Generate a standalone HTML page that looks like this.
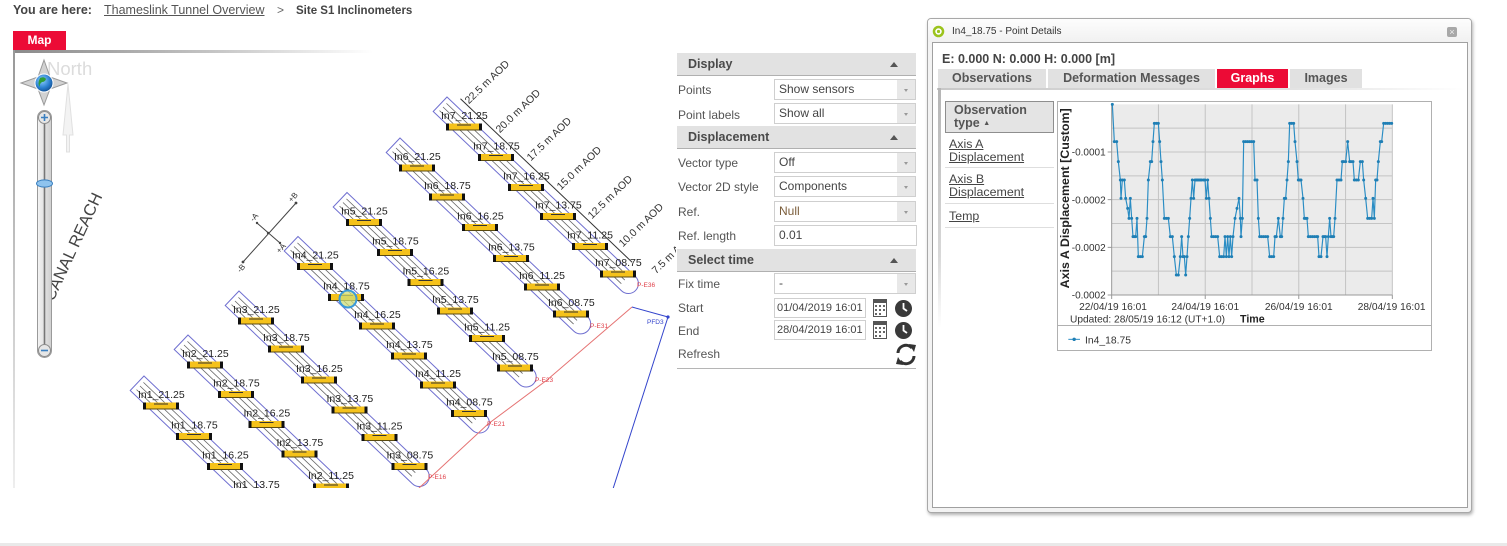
<!DOCTYPE html>
<html><head><meta charset="utf-8">
<style>
*{margin:0;padding:0;box-sizing:border-box}
body{width:1507px;height:546px;overflow:hidden;background:#fff;font-family:"Liberation Sans",Arial,sans-serif;position:relative}
.a{position:absolute;white-space:nowrap}
.hdr{position:absolute;left:677px;width:239px;height:23px;background:#e2e2e2;border-bottom:1px solid #b0b0b0;font-weight:bold;font-size:12.5px;color:#4a4a4a;line-height:22px;padding-left:11px}
.hdr i{position:absolute;right:18px;top:9px;width:0;height:0;border-left:4px solid transparent;border-right:4px solid transparent;border-bottom:5px solid #555}
.lbl{position:absolute;left:678px;font-size:12px;color:#555;white-space:nowrap;line-height:14px}
.sel{position:absolute;left:774px;width:142px;height:21px;border:1px solid #cfcfcf;background:#fff;font-size:12px;color:#444;line-height:19px;padding-left:4px;white-space:nowrap;overflow:hidden}
.sel b{position:absolute;right:0;top:0;width:18px;height:19px;background:#e8e8e8}
.sel b:after{content:"";position:absolute;left:7px;top:9px;border-left:2.5px solid transparent;border-right:2.5px solid transparent;border-top:3px solid #999}
.inp{position:absolute;left:774px;width:92px;height:20px;border:1px solid #cfcfcf;background:#fff;font-size:11px;color:#444;line-height:18px;padding-left:2px;white-space:nowrap;overflow:hidden}
.tab{position:absolute;top:69px;height:19px;background:#e1e1e1;font-weight:bold;font-size:12.5px;color:#555;line-height:19px;text-align:center;white-space:nowrap}
.lk{position:absolute;left:949px;font-size:12.4px;color:#444;text-decoration:underline;white-space:nowrap;line-height:13px}
.sp{position:absolute;left:945px;width:109px;height:1px;background:#dedede}
</style></head><body>

<!-- breadcrumb -->
<div class="a" style="left:13px;top:3px;font-size:12.5px;font-weight:bold;color:#444;line-height:15px">You are here:</div>
<div class="a" style="left:104px;top:3px;font-size:12.5px;color:#555;text-decoration:underline;line-height:15px">Thameslink Tunnel Overview</div>
<div class="a" style="left:277px;top:3px;font-size:12px;color:#666;line-height:15px">&gt;</div>
<div class="a" style="left:296px;top:4px;font-size:11.5px;font-weight:bold;color:#444;line-height:15px">Site S1 Inclinometers</div>

<!-- map tab -->
<div class="a" style="left:13px;top:31px;width:53px;height:19px;background:#ec0b36;color:#fff;font-weight:bold;font-size:12px;line-height:19px;text-align:center">Map</div>
<div class="a" style="left:13px;top:50px;width:360px;height:3px;background:linear-gradient(to right,#8a8a8a,#c4c4c4 55%,rgba(255,255,255,0))"></div>
<div class="a" style="left:13px;top:50px;width:2px;height:438px;background:linear-gradient(to bottom,#999,#ccc 60%,#eee)"></div>

<!-- map svg -->
<svg class="a" style="left:0;top:0" width="680" height="492" viewBox="0 0 680 492" font-family="Liberation Sans, Arial, sans-serif">
<defs>
<clipPath id="mc"><rect x="15" y="53" width="661" height="435"/></clipPath>
<g id="b"><rect x="-18" y="-3.5" width="36" height="7" fill="#f5c21b"/><rect x="-18" y="-3.5" width="3" height="7" fill="#111"/><rect x="15" y="-3.5" width="3" height="7" fill="#111"/><rect x="-15" y="2.5" width="30" height="1" fill="#5a4a10"/><rect x="-7" y="-2.5" width="14" height="1" fill="#333"/></g>
<linearGradient id="sl" x1="0" x2="1"><stop offset="0" stop-color="#f4f4f4"/><stop offset="1" stop-color="#cfcfcf"/></linearGradient>
<radialGradient id="gl" cx=".4" cy=".35" r=".7"><stop offset="0" stop-color="#8fd0ff"/><stop offset=".6" stop-color="#2a7fd0"/><stop offset="1" stop-color="#114a8a"/></radialGradient>
</defs>
<g clip-path="url(#mc)">
<!-- tubes -->
<g fill="none" stroke-width="1">
<g transform="translate(464,127) rotate(43.6)"><path d="M-33,-10 H227 A10,10 0 0 1 227,10 H-33 Z" stroke="#6f6fd0"/><path d="M-29,-5 H222 M-29,0 H222 M-29,5 H222" stroke="#666" stroke-width=".8"/><path d="M-22,-18 H215" stroke="#333"/></g>
<g transform="translate(417,168) rotate(43.6)"><path d="M-33,-10 H226 A10,10 0 0 1 226,10 H-33 Z" stroke="#6f6fd0"/><path d="M-29,-5 H221 M-29,0 H221 M-29,5 H221" stroke="#666" stroke-width=".8"/></g>
<g transform="translate(364,222.5) rotate(43.6)"><path d="M-33,-10 H224 A10,10 0 0 1 224,10 H-33 Z" stroke="#6f6fd0"/><path d="M-29,-5 H219 M-29,0 H219 M-29,5 H219" stroke="#666" stroke-width=".8"/></g>
<g transform="translate(315,266.5) rotate(43.6)"><path d="M-33,-10 H227 A10,10 0 0 1 227,10 H-33 Z" stroke="#6f6fd0"/><path d="M-29,-5 H222 M-29,0 H222 M-29,5 H222" stroke="#666" stroke-width=".8"/></g>
<g transform="translate(256,321) rotate(43.6)"><path d="M-33,-10 H225.5 A10,10 0 0 1 225.5,10 H-33 Z" stroke="#6f6fd0"/><path d="M-29,-5 H220 M-29,0 H220 M-29,5 H220" stroke="#666" stroke-width=".8"/></g>
<g transform="translate(205,365) rotate(43.6)"><path d="M-33,-10 H250 A10,10 0 0 1 250,10 H-33 Z" stroke="#6f6fd0"/><path d="M-29,-5 H245 M-29,0 H245 M-29,5 H245" stroke="#666" stroke-width=".8"/></g>
<g transform="translate(161,406) rotate(43.6)"><path d="M-33,-10 H200 A10,10 0 0 1 200,10 H-33 Z" stroke="#6f6fd0"/><path d="M-29,-5 H195 M-29,0 H195 M-29,5 H195" stroke="#666" stroke-width=".8"/></g>
</g>
<!-- red / blue lines -->
<polyline points="418,489 488,424 547,380 632,307" fill="none" stroke="#e57373" stroke-width="1"/>
<polyline points="632,307 668,317 612,492" fill="none" stroke="#3344cc" stroke-width="1"/>
<circle cx="668" cy="317" r="1.6" fill="#3344cc"/>
<text x="647" y="324" font-size="6.5" fill="#3344cc">PFD3</text>
<g font-size="6.5" fill="#e0404a">
<text x="637" y="287">P-E36</text><text x="590" y="328">P-E31</text><text x="535" y="382">P-E23</text><text x="487" y="426">P-E21</text><text x="428" y="479">P-E16</text>
</g>
<!-- AOD labels -->
<g font-size="10.5" fill="#333" text-anchor="middle">
<text x="487" y="82" dy="3.5" transform="rotate(-44 487 82)">22.5 m AOD</text>
<text x="518" y="111" dy="3.5" transform="rotate(-44 518 111)">20.0 m AOD</text>
<text x="549" y="139" dy="3.5" transform="rotate(-44 549 139)">17.5 m AOD</text>
<text x="579" y="168" dy="3.5" transform="rotate(-44 579 168)">15.0 m AOD</text>
<text x="610" y="197" dy="3.5" transform="rotate(-44 610 197)">12.5 m AOD</text>
<text x="641" y="225" dy="3.5" transform="rotate(-44 641 225)">10.0 m AOD</text>
<text x="672" y="254" dy="3.5" transform="rotate(-44 672 254)">7.5 m AOD</text>
</g>
<!-- axis cross -->
<g stroke="#444" stroke-width="1" fill="none"><line x1="243" y1="262" x2="296" y2="203"/><line x1="257" y1="223" x2="280" y2="243"/></g>
<g fill="#444"><circle cx="243" cy="262" r="1.4"/><circle cx="296" cy="203" r="1.4"/><circle cx="257" cy="223" r="1.2"/><circle cx="280" cy="243" r="1.2"/><circle cx="268" cy="233" r="1.2"/></g>
<g font-size="8" fill="#333" text-anchor="middle">
<text x="295" y="199" transform="rotate(-48 295 199)">+B</text>
<text x="256" y="219" transform="rotate(-48 256 219)">-A</text>
<text x="283" y="250" transform="rotate(-48 283 250)">+A</text>
<text x="243" y="270" transform="rotate(-48 243 270)">-B</text>
</g>
<!-- bars -->
<use href="#b" x="464" y="127"/><use href="#b" x="496" y="157.5"/><use href="#b" x="526" y="187.5"/><use href="#b" x="558" y="216.5"/><use href="#b" x="590" y="246.5"/><use href="#b" x="618" y="274"/>
<use href="#b" x="417" y="168"/><use href="#b" x="447" y="197"/><use href="#b" x="480" y="227.5"/><use href="#b" x="511" y="258.5"/><use href="#b" x="542" y="287"/><use href="#b" x="571" y="314"/>
<use href="#b" x="364" y="222.5"/><use href="#b" x="395" y="252.5"/><use href="#b" x="425.5" y="282.5"/><use href="#b" x="455" y="311"/><use href="#b" x="487" y="338.5"/><use href="#b" x="515" y="368"/>
<use href="#b" x="315" y="266.5"/><use href="#b" x="346" y="297.5"/><use href="#b" x="377" y="326"/><use href="#b" x="409" y="356"/><use href="#b" x="438" y="385"/><use href="#b" x="469" y="413.5"/>
<use href="#b" x="256" y="321"/><use href="#b" x="286" y="349"/><use href="#b" x="319" y="380"/><use href="#b" x="349.5" y="410"/><use href="#b" x="379.5" y="437.5"/><use href="#b" x="409.5" y="466.5"/>
<use href="#b" x="205" y="365"/><use href="#b" x="236" y="394.5"/><use href="#b" x="266.5" y="424.5"/><use href="#b" x="299.5" y="454"/><use href="#b" x="331" y="487"/>
<use href="#b" x="161" y="406"/><use href="#b" x="194" y="436.5"/><use href="#b" x="225" y="466.5"/><use href="#b" x="256" y="496"/>
<!-- labels -->
<g font-size="10.5" fill="#222">
<text x="441" y="119">In7_21.25</text><text x="473" y="149.5">In7_18.75</text><text x="503" y="179.5">In7_16.25</text><text x="535" y="208.5">In7_13.75</text><text x="567" y="238.5">In7_11.25</text><text x="595" y="266">In7_08.75</text>
<text x="394" y="160">In6_21.25</text><text x="424" y="189">In6_18.75</text><text x="457" y="219.5">In6_16.25</text><text x="488" y="250.5">In6_13.75</text><text x="519" y="279">In6_11.25</text><text x="548" y="306">In6_08.75</text>
<text x="341" y="214.5">In5_21.25</text><text x="372" y="244.5">In5_18.75</text><text x="402.5" y="274.5">In5_16.25</text><text x="432" y="303">In5_13.75</text><text x="464" y="330.5">In5_11.25</text><text x="492" y="360">In5_08.75</text>
<text x="292" y="258.5">In4_21.25</text><text x="323" y="289.5">In4_18.75</text><text x="354" y="318">In4_16.25</text><text x="386" y="348">In4_13.75</text><text x="415" y="377">In4_11.25</text><text x="446" y="405.5">In4_08.75</text>
<text x="233" y="313">In3_21.25</text><text x="263" y="341">In3_18.75</text><text x="296" y="372">In3_16.25</text><text x="326.5" y="402">In3_13.75</text><text x="356.5" y="429.5">In3_11.25</text><text x="386.5" y="458.5">In3_08.75</text>
<text x="182" y="357">In2_21.25</text><text x="213" y="386.5">In2_18.75</text><text x="243.5" y="416.5">In2_16.25</text><text x="276.5" y="446">In2_13.75</text><text x="308" y="479">In2_11.25</text>
<text x="138" y="398">In1_21.25</text><text x="171" y="428.5">In1_18.75</text><text x="202" y="458.5">In1_16.25</text><text x="233" y="488">In1_13.75</text>
</g>
<circle cx="348" cy="299" r="8.5" fill="rgba(205,220,120,0.75)" stroke="#3a9ad9" stroke-width="2"/>
<!-- canal reach -->
<text x="72.5" y="246.5" dy="6" font-size="16.5" fill="#444" text-anchor="middle" transform="rotate(-65 72.5 246.5)">CANAL REACH</text>
<!-- north -->
<text x="47" y="75" font-size="18.5" fill="#dcdcdc">North</text>
<path d="M68,84 L73,135 L69.5,135 L69.5,152 L66.5,152 L66.5,135 L63,135 Z" fill="#f3f3f3" stroke="#e0e0e0"/>
<!-- compass -->
<polygon points="44,60 50,77 67,83 50,89 44,105 38,89 21,83 38,77" fill="#d2d2d2" stroke="#9a9a9a" stroke-width="1"/>
<circle cx="44" cy="83" r="9" fill="url(#gl)" stroke="#fff" stroke-width="1"/>
<path d="M40,78 q4,-2 6,1 q-1,3 -4,3 q-3,2 -2,5 q-3,-3 0,-9z" fill="#2e9e3a"/>
<!-- slider -->
<rect x="37.5" y="110.5" width="14" height="247" rx="7" fill="url(#sl)" stroke="#9a9a9a"/>
<line x1="44.5" y1="124" x2="44.5" y2="344" stroke="#777" stroke-width="1.6"/>
<circle cx="44.5" cy="117.5" r="6" fill="#e6e6e6" stroke="#8a8a8a"/>
<path d="M41,117.5 H48 M44.5,114 V121" stroke="#3a7fc0" stroke-width="1.6"/>
<circle cx="44.5" cy="350.5" r="6" fill="#e6e6e6" stroke="#8a8a8a"/>
<path d="M41,350.5 H48" stroke="#3a7fc0" stroke-width="1.6"/>
<ellipse cx="44.5" cy="183.5" rx="8" ry="3.6" fill="#8ec3ee" stroke="#3a80c0"/>
</g>
</svg>

<!-- right side panel -->
<div class="hdr" style="top:53px">Display<i></i></div>
<div class="lbl" style="top:83px">Points</div>
<div class="sel" style="top:79px">Show sensors<b></b></div>
<div class="lbl" style="top:108px">Point labels</div>
<div class="sel" style="top:103px">Show all<b></b></div>
<div class="hdr" style="top:126px">Displacement<i></i></div>
<div class="lbl" style="top:156px">Vector type</div>
<div class="sel" style="top:152px">Off<b></b></div>
<div class="lbl" style="top:180px">Vector 2D style</div>
<div class="sel" style="top:176px">Components<b></b></div>
<div class="lbl" style="top:205px">Ref.</div>
<div class="sel" style="top:201px;color:#7b5d3a">Null<b></b></div>
<div class="lbl" style="top:229px">Ref. length</div>
<div class="sel" style="top:225px;width:143px">0.01</div>
<div class="hdr" style="top:249px">Select time<i></i></div>
<div class="lbl" style="top:277px">Fix time</div>
<div class="sel" style="top:273px">-<b></b></div>
<div class="lbl" style="top:301px">Start</div>
<div class="inp" style="top:298px">01/04/2019 16:01</div>
<div class="lbl" style="top:324px">End</div>
<div class="inp" style="top:320px">28/04/2019 16:01</div>
<div class="lbl" style="top:347px">Refresh</div>
<svg class="a" style="left:872px;top:297px" width="16" height="44" viewBox="0 0 16 44">
<g><rect x="1.5" y="2.5" width="13" height="17" fill="#fff" stroke="#555"/><rect x="1" y="2" width="14" height="4" fill="#555"/><g fill="#666"><rect x="3" y="8" width="2" height="2"/><rect x="7" y="8" width="2" height="2"/><rect x="11" y="8" width="2" height="2"/><rect x="3" y="12" width="2" height="2"/><rect x="7" y="12" width="2" height="2"/><rect x="11" y="12" width="2" height="2"/><rect x="3" y="16" width="2" height="2"/><rect x="7" y="16" width="2" height="2"/></g></g>
<g transform="translate(0,22)"><rect x="1.5" y="2.5" width="13" height="17" fill="#fff" stroke="#555"/><rect x="1" y="2" width="14" height="4" fill="#555"/><g fill="#666"><rect x="3" y="8" width="2" height="2"/><rect x="7" y="8" width="2" height="2"/><rect x="11" y="8" width="2" height="2"/><rect x="3" y="12" width="2" height="2"/><rect x="7" y="12" width="2" height="2"/><rect x="11" y="12" width="2" height="2"/><rect x="3" y="16" width="2" height="2"/><rect x="7" y="16" width="2" height="2"/></g></g>
</svg>
<svg class="a" style="left:894px;top:299px" width="20" height="42" viewBox="0 0 20 42">
<circle cx="9.5" cy="9.5" r="8.5" fill="#3a3a3a"/><path d="M9.5,4 V9.5 L13,12" stroke="#fff" stroke-width="1.8" fill="none"/>
<circle cx="9.5" cy="31.5" r="8.5" fill="#3a3a3a"/><path d="M9.5,26 V31.5 L13,34" stroke="#fff" stroke-width="1.8" fill="none"/>
</svg>
<svg class="a" style="left:894px;top:342px" width="24" height="25" viewBox="0 0 24 25">
<path d="M4,11 A8,8 0 0 1 18,6" stroke="#333" stroke-width="3" fill="none"/><polygon points="15,2 22,3 20,10" fill="#333"/>
<path d="M20,14 A8,8 0 0 1 6,19" stroke="#333" stroke-width="3" fill="none"/><polygon points="9,23 2,22 4,15" fill="#333"/>
</svg>
<div class="a" style="left:677px;top:368px;width:239px;height:1px;background:#b5b5b5"></div>

<!-- dialog -->
<div class="a" style="left:927px;top:18px;width:545px;height:495px;border:1px solid #a8a8a8;border-radius:4px;background:#f3f3f3;box-shadow:1px 2px 3px rgba(0,0,0,.3)"></div>
<div class="a" style="left:928px;top:19px;width:543px;height:23px;background:linear-gradient(#fdfdfd,#f1f1f1);border-radius:3px 3px 0 0"></div>
<svg class="a" style="left:932px;top:25px" width="14" height="14"><circle cx="6.5" cy="6.5" r="4.5" fill="#fff" stroke="#9bc31c" stroke-width="2.5"/><circle cx="6.5" cy="6.5" r="1.6" fill="#9bc31c"/></svg>
<div class="a" style="left:952px;top:26px;font-size:10px;color:#333;line-height:12px">In4_18.75 - Point Details</div>
<div class="a" style="left:1447px;top:27px;width:10px;height:10px;background:#a8a8a8;border-radius:2px;color:#eee;font-size:9px;line-height:10px;text-align:center">×</div>
<div class="a" style="left:932px;top:42px;width:536px;height:466px;border:1px solid #a0a0a0;background:#fff"></div>
<div class="a" style="left:942px;top:52px;font-size:12.5px;font-weight:bold;color:#444;line-height:14px">E: 0.000 N: 0.000 H: 0.000 [m]</div>
<div class="tab" style="left:938px;width:108px">Observations</div>
<div class="tab" style="left:1048px;width:167px">Deformation Messages</div>
<div class="tab" style="left:1217px;width:71px;background:#ec0b36;color:#fff">Graphs</div>
<div class="tab" style="left:1290px;width:72px">Images</div>
<div class="a" style="left:937px;top:88px;width:528px;height:2px;background:linear-gradient(to right,#c8c8c8,#e4e4e4 70%,rgba(255,255,255,0))"></div>
<div class="a" style="left:938px;top:88px;width:3px;height:240px;background:linear-gradient(#b5b5b5,#d8d8d8 70%,rgba(255,255,255,0))"></div>

<!-- observation type -->
<div class="a" style="left:945px;top:101px;width:109px;height:32px;background:#e4e4e4;border:1px solid #8e8e8e"></div>
<div class="a" style="left:954px;top:104px;font-size:12.5px;font-weight:bold;color:#555;line-height:13px">Observation</div>
<div class="a" style="left:954px;top:117px;font-size:12.5px;font-weight:bold;color:#555;line-height:13px">type <span style="font-size:7px;vertical-align:2px">▲</span></div>
<div class="lk" style="top:138px">Axis A</div>
<div class="lk" style="top:151px">Displacement</div>
<div class="sp" style="top:167px"></div>
<div class="lk" style="top:173px">Axis B</div>
<div class="lk" style="top:186px">Displacement</div>
<div class="sp" style="top:203px"></div>
<div class="lk" style="top:210px">Temp</div>
<div class="sp" style="top:227px"></div>

<!-- chart -->
<div class="a" style="left:1057px;top:101px;width:375px;height:250px;border:1px solid #b0b0b0;background:#fff"></div>
<div class="a" style="left:1057px;top:325px;width:375px;height:1px;background:#b0b0b0"></div>
<svg class="a" style="left:1055px;top:95px" width="380" height="260" viewBox="0 0 1140 780" font-family="Liberation Sans, Arial, sans-serif">
<defs><marker id="mk" markerUnits="userSpaceOnUse" markerWidth="12" markerHeight="12" refX="6" refY="6"><circle cx="6" cy="6" r="4.5" fill="#1f7fb5"/></marker></defs>
<rect x="170" y="28" width="842" height="572" fill="#ebebeb"/>
<g stroke="#c4c4c4" stroke-width="3">
<path d="M170,99.5H1012M170,171H1012M170,242.5H1012M170,314H1012M170,385.5H1012M170,457H1012M170,528.5H1012"/>
<path d="M310.3,28V600M450.7,28V600M591,28V600M731.3,28V600M871.7,28V600M1012,28V600"/>
</g>
<path d="M170,28V600H1012" stroke="#999" stroke-width="3" fill="none"/>
<path d="M170,600V612M450.7,600V612M731.3,600V612M1012,600V612M158,171H170M158,314H170M158,457H170M158,600H170" stroke="#999" stroke-width="3"/>
<g font-size="30" fill="#333" text-anchor="end">
<text x="152" y="182">-0.0001</text><text x="152" y="325">-0.0002</text><text x="152" y="468">-0.0002</text><text x="152" y="611">-0.0002</text>
</g>
<g font-size="30.5" fill="#333" text-anchor="middle">
<text x="174" y="645">22/04/19 16:01</text><text x="450.7" y="645">24/04/19 16:01</text><text x="731.3" y="645">26/04/19 16:01</text><text x="1010" y="645">28/04/19 16:01</text>
</g>
<text x="45" y="683" font-size="31" fill="#333" textLength="465" lengthAdjust="spacingAndGlyphs">Updated: 28/05/19 16:12 (UT+1.0)</text>
<text x="555" y="683" font-size="32" font-weight="bold" fill="#222">Time</text>
<text x="0" y="0" font-size="35" font-weight="bold" fill="#222" text-anchor="middle" textLength="540" lengthAdjust="spacingAndGlyphs" transform="translate(42,310) rotate(-90)">Axis A Displacement [Custom]</text>
<polyline fill="none" stroke="#2a8dc4" stroke-width="3.5" stroke-linejoin="round" marker-start="url(#mk)" marker-mid="url(#mk)" marker-end="url(#mk)" points="172,28 178,140 185,140 190,200 196,255 198,310 202,255 208,255 212,310 218,340 222,370 226,310 230,370 234,425 238,425 242,425 246,370 250,485 256,485 262,485 268,425 272,425 276,370 280,255 286,200 290,200 294,140 298,85 304,85 310,85 314,140 318,200 322,255 328,370 334,370 340,370 346,425 352,425 358,485 364,540 370,540 376,485 380,425 384,485 388,485 392,540 396,485 400,425 404,370 408,310 412,255 416,310 420,255 424,255 428,255 432,255 436,255 440,255 446,255 450,255 454,310 458,255 462,310 466,370 470,425 476,425 482,425 488,425 494,485 500,485 506,485 510,425 514,485 518,425 522,485 526,425 530,485 534,425 540,370 546,340 552,310 556,370 558,425 562,370 566,140 572,140 578,140 584,140 590,140 596,140 600,255 606,255 610,370 614,425 620,425 626,425 632,425 638,425 644,485 650,485 656,485 660,425 664,425 670,370 676,425 680,425 684,370 688,310 692,310 696,255 700,200 704,85 710,85 716,85 720,140 726,200 730,255 734,255 738,255 744,310 748,370 752,370 756,370 760,425 766,425 772,425 778,425 784,425 788,425 792,485 798,485 804,425 808,425 812,425 816,485 820,425 824,370 828,425 832,425 836,425 840,370 846,255 852,255 858,255 862,200 866,200 872,200 878,140 884,200 888,200 894,200 898,255 904,255 910,255 916,200 922,200 926,255 932,310 938,370 944,370 950,370 954,310 958,370 962,255 966,255 970,200 976,140 980,140 986,85 992,85 998,85 1004,85 1010,85"/>
<line x1="40" y1="733" x2="75" y2="733" stroke="#2a8dc4" stroke-width="3"/><circle cx="57.5" cy="733" r="5" fill="#1f7fb5"/>
<text x="90" y="745" font-size="31" fill="#333">In4_18.75</text>
</svg>

<!-- bottom band -->
<div class="a" style="left:0;top:543px;width:1507px;height:3px;background:#e9e9e9"></div>
</body></html>
